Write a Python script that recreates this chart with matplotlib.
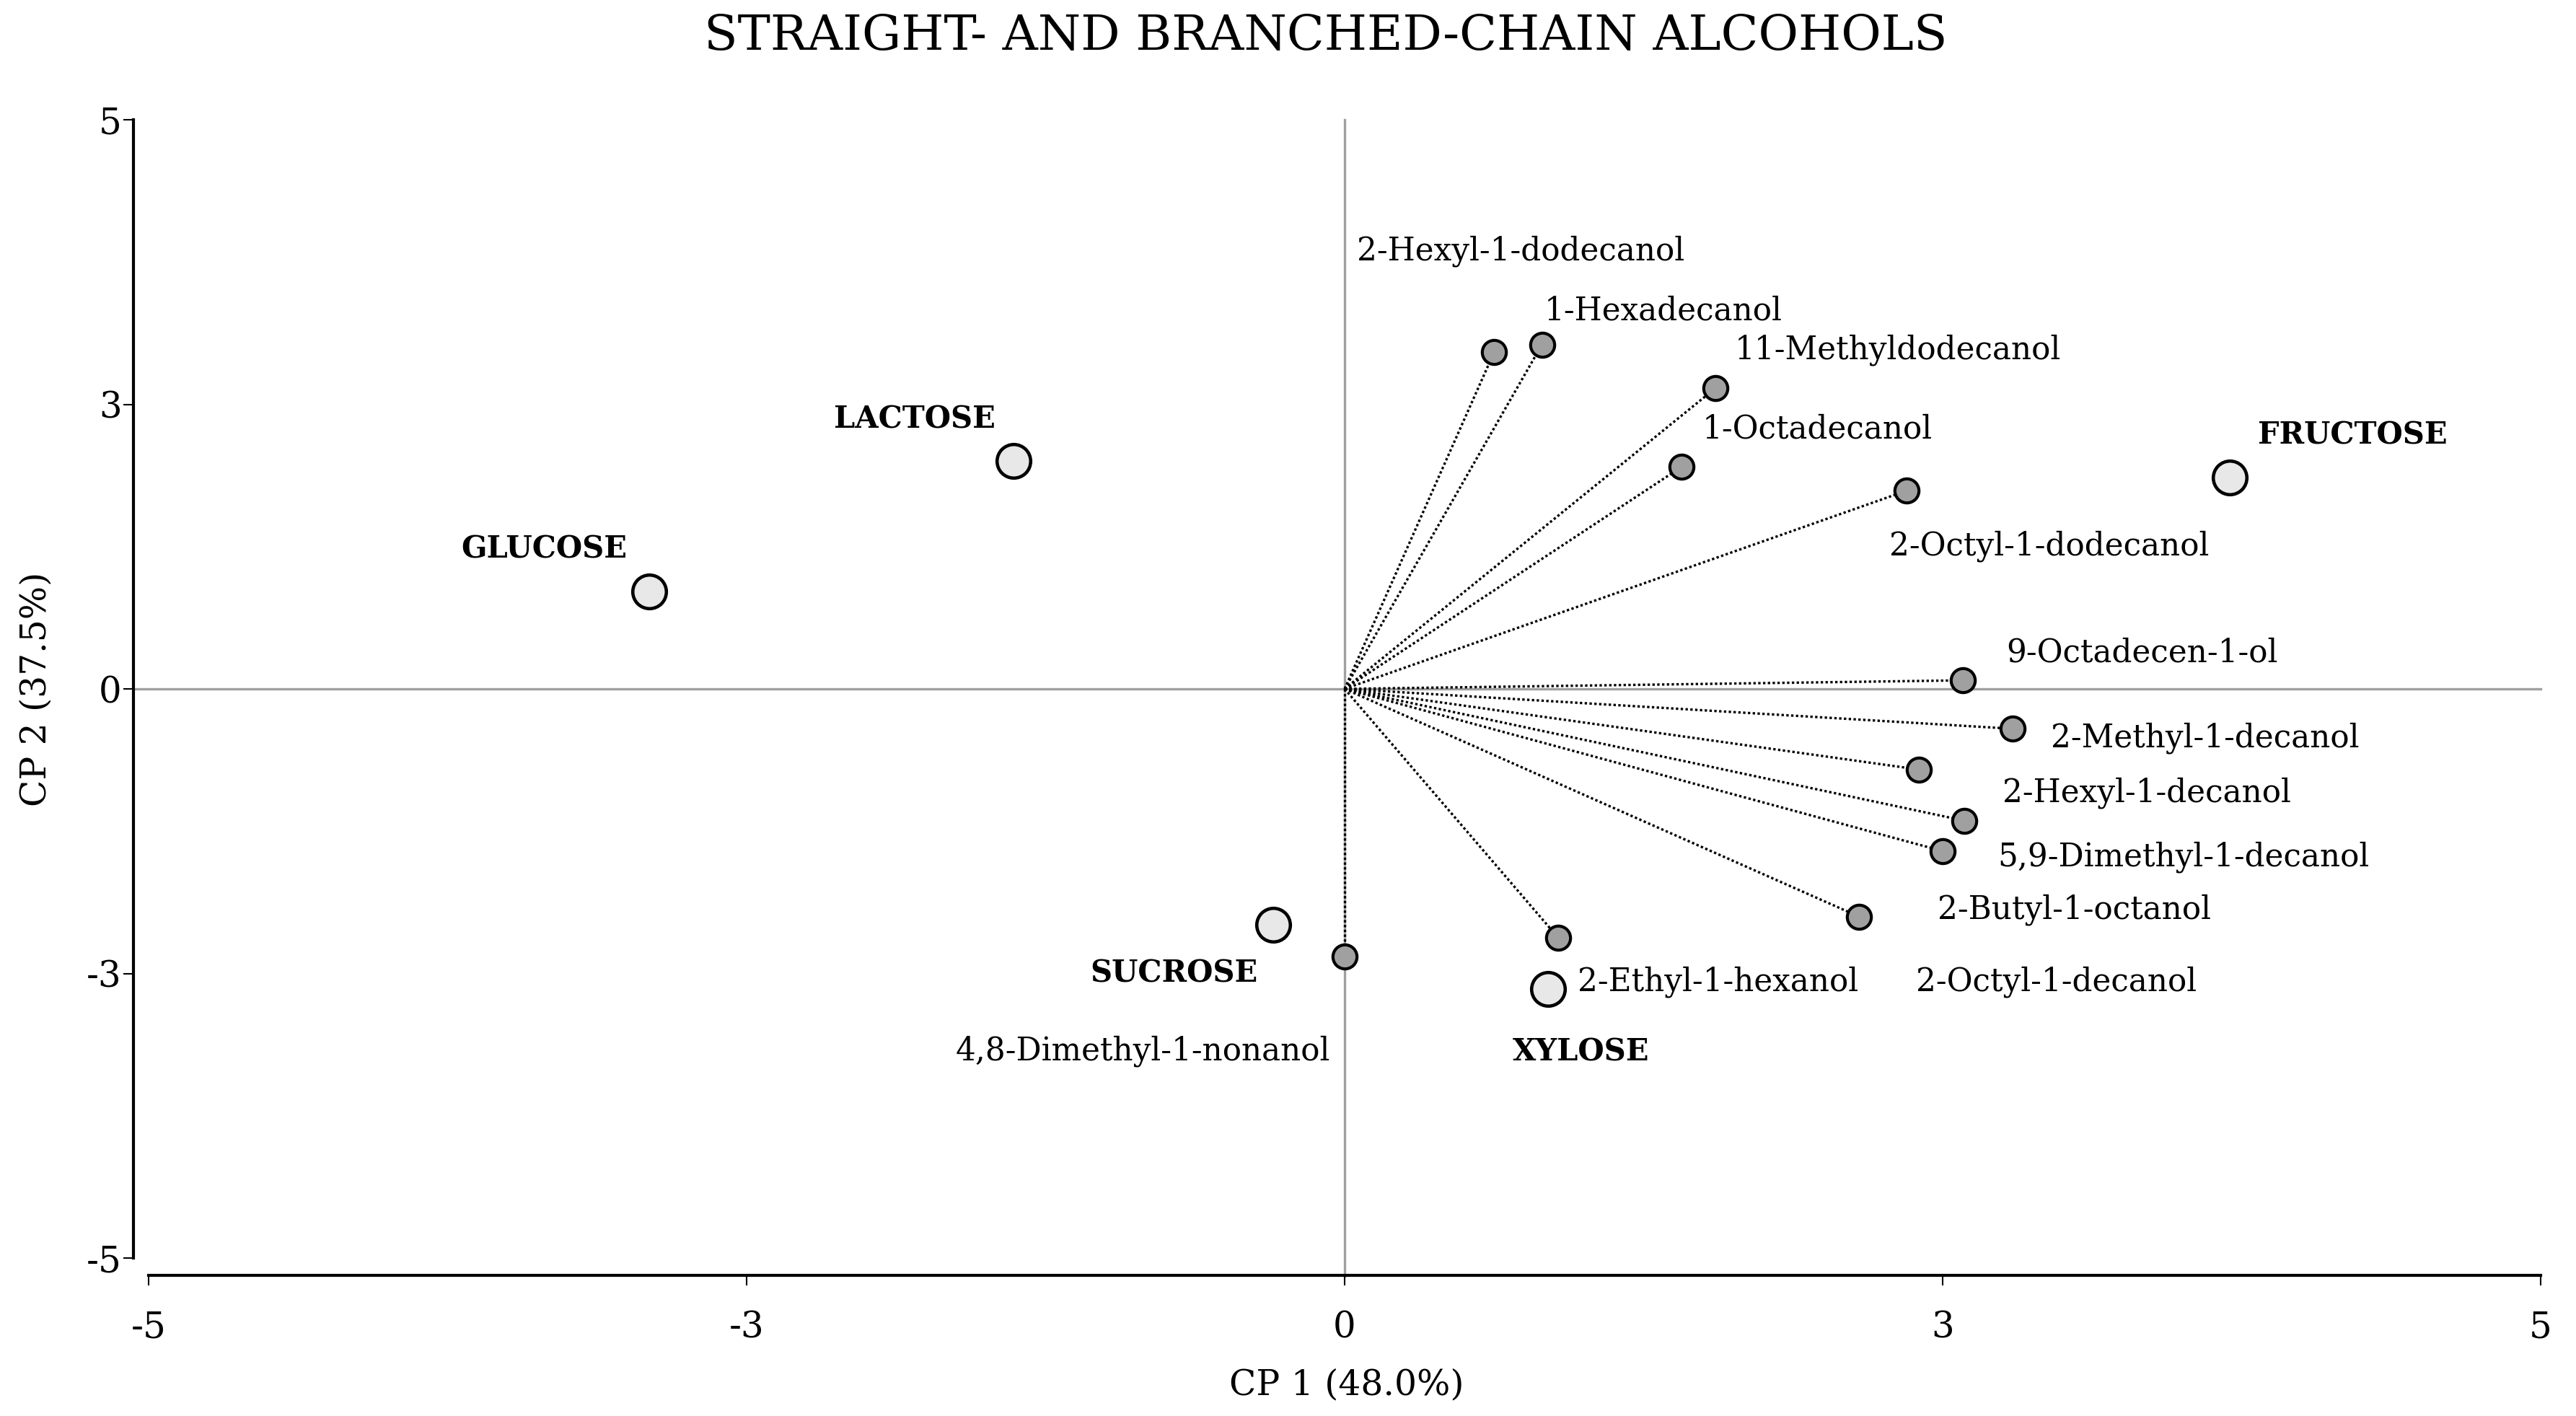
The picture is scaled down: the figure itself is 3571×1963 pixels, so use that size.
import matplotlib
matplotlib.use("Agg")
import matplotlib.pyplot as plt

plt.rcParams['font.family'] = ['DejaVu Serif']

# ---- data ----
title = "STRAIGHT- AND BRANCHED-CHAIN ALCOHOLS"
xlabel = "CP 1 (48.0%)"
ylabel = "CP 2 (37.5%)"
tick_values = [-6, -3, 0, 3, 6]
tick_labels = ["-5", "-3", "0", "3", "5"]

sugar_names = ["LACTOSE", "GLUCOSE", "FRUCTOSE", "SUCROSE", "XYLOSE"]
sugar_x = [-1.66, -3.49, 4.44, -0.36, 1.02]
sugar_y = [2.40, 1.03, 2.23, -2.49, -3.16]

alcohol_names = ["2-Hexyl-1-dodecanol", "1-Hexadecanol", "11-Methyldodecanol",
                 "1-Octadecanol", "2-Octyl-1-dodecanol", "9-Octadecen-1-ol",
                 "2-Methyl-1-decanol", "2-Hexyl-1-decanol", "5,9-Dimethyl-1-decanol",
                 "2-Octyl-1-decanol", "2-Butyl-1-octanol", "2-Ethyl-1-hexanol",
                 "4,8-Dimethyl-1-nonanol"]
alcohol_x = [0.75, 0.99, 1.86, 1.69, 2.82, 3.10, 3.35, 2.88, 3.11, 3.00, 2.58, 1.07, 0.00]
alcohol_y = [3.55, 3.63, 3.17, 2.34, 2.09, 0.09, -0.42, -0.85, -1.39, -1.71, -2.40, -2.62, -2.82]

# ---- layout (label offsets in points) ----
sugar_offsets = [(-33, 14), (-35, 14), (41, 14), (-33, -16), (11, -21)]
alcohol_offsets = [(-45.6, 33.5), (0.8, 11.1), (6.5, 12.7), (6.9, 12.5), (-5.8, -18.5),
                   (14.5, 9.2), (12.7, -3.1), (27.8, -7.8), (11.0, -12.2), (-8.8, -43.6),
                   (26.1, 2.3), (6.5, -14.9), (-4.8, -31.5)]
alcohol_ha = ["left"] * 12 + ["right"]

fig = plt.figure(figsize=(3571 / 300, 1963 / 300), dpi=300)
ax = fig.add_axes([206 / 3571, 219 / 1963, (3522 - 206) / 3571, (1744 - 166) / 1963])
ax.set_xlim(-6, 6)
ax.set_ylim(-6, 6)

for s in ["top", "right"]:
    ax.spines[s].set_visible(False)
ax.spines["left"].set_position(("outward", 5))
ax.spines["bottom"].set_position(("outward", 5.8))
for s in ["left", "bottom"]:
    ax.spines[s].set_linewidth(1.0)

ax.set_xticks(tick_values)
ax.set_xticklabels(tick_labels)
ax.set_yticks(tick_values)
ax.set_yticklabels(tick_labels)
ax.tick_params(axis="x", direction="out", length=3.4, width=0.5, pad=8, labelsize=12)
ax.tick_params(axis="y", direction="out", length=3.4, width=0.5, pad=0.5, labelsize=12)

# reference lines
ax.axhline(0, xmin=-0.0064, xmax=1, color="#a0a0a0", lw=0.8, clip_on=False, zorder=1)
ax.axvline(0, ymin=-0.016, ymax=1, color="#a0a0a0", lw=0.8, clip_on=False, zorder=1)

# loading vectors
for x, y in zip(alcohol_x, alcohol_y):
    ax.plot([0, x], [0, y], color="black", lw=0.8, ls=(0, (1, 1)), zorder=2)

ax.scatter(alcohol_x, alcohol_y, s=64, c="#a0a0a0", edgecolors="black", linewidths=1.0, zorder=3)
ax.scatter(sugar_x, sugar_y, s=125, c="#e8e8e8", edgecolors="black", linewidths=1.1, zorder=3)

for name, x, y, off, ha in zip(alcohol_names, alcohol_x, alcohol_y, alcohol_offsets, alcohol_ha):
    ax.annotate(name, (x, y), xytext=off, textcoords="offset points",
                ha=ha, va="center", fontsize=10.5)
for name, x, y, off in zip(sugar_names, sugar_x, sugar_y, sugar_offsets):
    ax.annotate(name, (x, y), xytext=off, textcoords="offset points",
                ha="center", va="center", fontsize=10, fontweight="bold")

fig.text(1838 / 3571, 1 - 50 / 1963, title, ha="center", va="center", fontsize=16.3)
fig.text(1867 / 3571, 1 - 1920 / 1963, xlabel, ha="center", va="center", fontsize=11.7)
fig.text(50 / 3571, 1 - 955 / 1963, ylabel, ha="center", va="center", fontsize=11.7, rotation=90)

fig.savefig("out.png", dpi=300)
